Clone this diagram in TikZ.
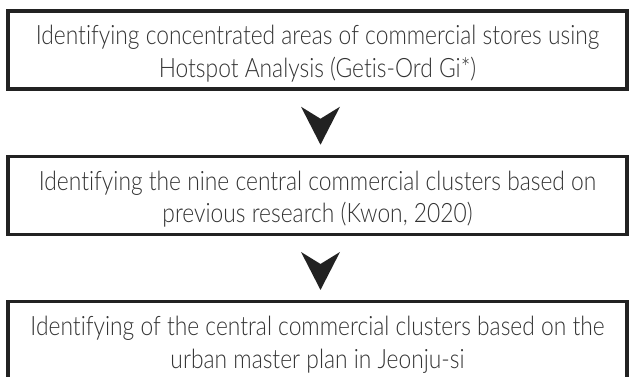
\documentclass[tikz,border=0pt]{standalone}
\usepackage{fontspec}
\setmainfont{Lato}[UprightFont=* Light, FakeStretch=0.855, Ligatures=NoCommon]
\usetikzlibrary{calc}
\definecolor{boxline}{HTML}{222222}
\definecolor{boxtext}{HTML}{333333}
% extra height on the first line so the two lines sit a little low in each box
\newcommand\firstlinepad{\rule{0pt}{20.5pt}}
\tikzset{
  stagebox/.style={draw=boxline, line width=2.6pt, fill=white,
    minimum width=464pt, minimum height=58.5pt, inner sep=0pt,
    align=center, text=boxtext,
    font=\fontsize{20}{24.5}\selectfont},
  dart/.style={fill=boxline}
}
\begin{document}
\begin{tikzpicture}[x=0.75pt, y=0.75pt]
  \useasboundingbox (0,0) rectangle (629,377);
  \clip (0,0) rectangle (629,377);
  \node[stagebox] (s1) at (317.5,327)
    {\firstlinepad Identifying concentrated areas of commercial stores using\\Hotspot Analysis (Getis-Ord Gi*)};
  \node[stagebox] (s2) at (317.5,181.75)
    {\firstlinepad Identifying the nine central commercial clusters based on\\previous research (Kwon, 2020)};
  \node[stagebox] (s3) at (317.5,36.5)
    {\firstlinepad Identifying of the central commercial clusters based on the\\urban master plan in Jeonju-si};
  % notched dart arrows between the stages
  \fill[dart] ([shift={(-16.5,-16)}]s1.south) -- ++(19.5,-12) -- ++(19.5,12)
    -- ++(-19.5,-38) -- cycle;
  \fill[dart] ([shift={(-16.5,-16)}]s2.south) -- ++(19.5,-12) -- ++(19.5,12)
    -- ++(-19.5,-38) -- cycle;
\end{tikzpicture}
\end{document}
